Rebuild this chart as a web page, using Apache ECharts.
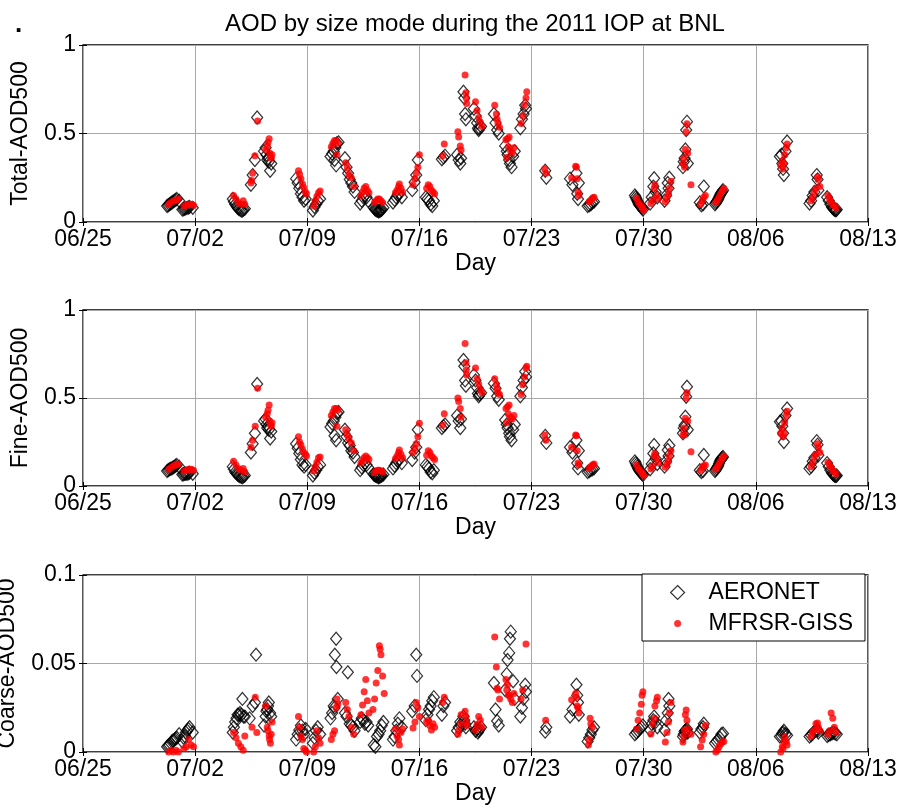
<!DOCTYPE html>
<html>
<head>
<meta charset="utf-8">
<script src="https://cdn.jsdelivr.net/npm/echarts@6/dist/echarts.min.js"></script>
<style>
  html, body { margin: 0; padding: 0; background: #fff; }
  #chart { width: 902px; height: 809px; }
</style>
</head>
<body>
<div id="chart"></div>
<script>
// Day axis: days since 06/25 2011, one tick per week
const dayTicks = ['06/25', '07/02', '07/09', '07/16', '07/23', '07/30', '08/06', '08/13'];

// [day since 06/25, AOD at 500 nm]
const aeronetTotal = [
  [5.25,0.09],[5.32,0.095],[5.4,0.10],[5.48,0.105],[5.55,0.11],[5.62,0.115],[5.7,0.12],[5.78,0.125],[5.85,0.13],[6.0,0.12],
  [6.2,0.07],[6.28,0.072],[6.35,0.075],[6.42,0.078],[6.5,0.08],[6.58,0.082],[6.65,0.085],[6.85,0.08],
  [9.35,0.13],[9.42,0.115],[9.5,0.10],[9.58,0.09],[9.65,0.08],[9.72,0.075],[9.8,0.07],[9.88,0.065],[9.95,0.065],[10.02,0.07],[10.1,0.075],
  [10.48,0.21],[10.59,0.265],[10.73,0.35],[10.87,0.59],
  [11.3,0.40],[11.4,0.42],[11.45,0.38],[11.5,0.35],[11.55,0.36],[11.6,0.34],[11.68,0.29],[11.75,0.33],
  [13.3,0.245],[13.4,0.22],[13.5,0.19],[13.6,0.16],[13.7,0.14],[13.8,0.12],[13.9,0.13],
  [14.35,0.065],[14.45,0.085],[14.55,0.10],[14.65,0.12],[14.8,0.13],
  [15.45,0.37],[15.55,0.385],[15.65,0.40],[15.75,0.42],[15.85,0.445],[15.95,0.45],[15.8,0.32],[15.7,0.35],
  [16.35,0.36],[16.45,0.31],[16.55,0.275],[16.65,0.24],[16.75,0.22],[16.85,0.20],[16.95,0.17],
  [17.3,0.105],[17.4,0.12],[17.5,0.14],[17.6,0.15],[17.7,0.14],[17.8,0.12],
  [18.15,0.08],[18.22,0.075],[18.25,0.07],[18.3,0.068],[18.35,0.065],[18.42,0.062],[18.45,0.06],[18.5,0.062],[18.55,0.065],[18.6,0.068],[18.65,0.07],[18.75,0.08],
  [19.35,0.11],[19.45,0.125],[19.55,0.14],[19.65,0.155],[19.75,0.16],[19.9,0.14],
  [20.55,0.18],[20.7,0.225],[20.8,0.265],[20.9,0.35],
  [21.4,0.14],[21.5,0.13],[21.6,0.12],[21.7,0.10],[21.8,0.09],[21.9,0.12],
  [22.4,0.355],[22.5,0.365],[22.6,0.375],
  [23.35,0.38],[23.45,0.35],[23.55,0.33],[23.6,0.36],[23.75,0.736],[23.8,0.70],[23.85,0.61],[23.9,0.58],
  [24.4,0.64],[24.5,0.60],[24.6,0.56],[24.65,0.53],[24.7,0.52],[24.75,0.53],[24.85,0.54],
  [25.65,0.61],[25.75,0.56],[25.85,0.52],[25.95,0.50],
  [26.35,0.43],[26.45,0.40],[26.5,0.38],[26.6,0.35],[26.65,0.33],[26.75,0.31],[26.85,0.37],[26.95,0.40],
  [27.3,0.53],[27.4,0.58],[27.5,0.61],[27.6,0.66],[27.65,0.64],
  [28.85,0.29],[28.92,0.25],
  [30.4,0.245],[30.55,0.21],[30.8,0.275],[30.85,0.16],[30.9,0.13],[30.95,0.22],
  [31.5,0.09],[31.6,0.095],[31.7,0.10],[31.8,0.11],[31.9,0.115],
  [34.45,0.15],[34.5,0.14],[34.55,0.13],[34.6,0.12],[34.65,0.11],[34.7,0.10],[34.75,0.095],[34.8,0.09],[34.85,0.085],[34.9,0.078],[34.95,0.07],
  [35.4,0.105],[35.5,0.14],[35.6,0.2],[35.65,0.247],[35.75,0.17],[35.85,0.14],
  [36.3,0.12],[36.4,0.15],[36.5,0.22],[36.6,0.25],[36.55,0.19],
  [37.45,0.31],[37.5,0.34],[37.55,0.36],[37.6,0.41],[37.65,0.52],[37.7,0.567],[37.75,0.33],
  [38.5,0.11],[38.6,0.095],[38.7,0.10],[38.75,0.2],
  [39.45,0.10],[39.5,0.108],[39.55,0.115],[39.6,0.122],[39.65,0.13],[39.7,0.14],[39.75,0.15],[39.8,0.158],[39.85,0.165],[39.9,0.172],[39.95,0.18],
  [43.5,0.37],[43.6,0.38],[43.65,0.33],[43.7,0.30],[43.75,0.265],[43.85,0.40],[43.95,0.455],
  [45.35,0.105],[45.45,0.12],[45.55,0.15],[45.65,0.17],[45.8,0.265],[45.85,0.24],[45.9,0.18],
  [46.45,0.14],[46.55,0.12],[46.65,0.10],[46.75,0.085],[46.8,0.08],[46.85,0.075],[46.9,0.07],[46.95,0.068],[47.0,0.066],[47.05,0.07]
];

const mfrsrTotal = [
  [5.35,0.10],[5.5,0.11],[5.65,0.12],[5.8,0.12],[5.95,0.13],
  [6.3,0.09],[6.45,0.095],[6.6,0.10],[6.75,0.10],[6.9,0.095],
  [9.4,0.15],[9.55,0.13],[9.7,0.11],[9.85,0.10],[10.0,0.12],[10.1,0.10],
  [10.49,0.22],[10.52,0.235],[10.59,0.275],[10.73,0.375],[10.9,0.57],
  [11.4,0.41],[11.5,0.43],[11.55,0.45],[11.62,0.47],[11.65,0.39],[11.7,0.37],[11.75,0.36],[11.8,0.38],
  [13.45,0.29],[13.52,0.27],[13.6,0.245],[13.7,0.215],[13.78,0.195],[13.88,0.17],[13.95,0.16],
  [14.4,0.09],[14.5,0.12],[14.6,0.145],[14.7,0.165],[14.8,0.175],
  [15.5,0.425],[15.6,0.445],[15.7,0.46],[15.8,0.46],[15.9,0.445],[15.85,0.38],
  [16.4,0.335],[16.5,0.305],[16.6,0.27],[16.75,0.25],[16.9,0.20],
  [17.35,0.15],[17.45,0.17],[17.55,0.19],[17.65,0.20],[17.75,0.18],[17.85,0.165],
  [18.2,0.11],[18.3,0.12],[18.4,0.13],[18.5,0.13],[18.6,0.12],[18.7,0.11],
  [19.5,0.165],[19.6,0.18],[19.7,0.20],[19.75,0.215],[19.85,0.19],[19.95,0.17],
  [20.6,0.21],[20.72,0.245],[20.8,0.275],[20.9,0.31],[21.0,0.38],
  [21.45,0.19],[21.55,0.21],[21.65,0.20],[21.75,0.18],[21.85,0.17],[21.95,0.16],
  [22.45,0.375],[22.55,0.44],
  [23.4,0.51],[23.45,0.48],[23.55,0.43],[23.6,0.407],[23.85,0.83],[23.9,0.73],[23.93,0.70],[23.95,0.67],
  [24.5,0.68],[24.6,0.63],[24.7,0.59],[24.8,0.565],[24.9,0.54],
  [25.7,0.66],[25.8,0.61],[25.85,0.58],[25.9,0.56],[26.0,0.535],
  [26.4,0.465],[26.5,0.47],[26.6,0.48],[26.55,0.425],[26.7,0.40],[26.8,0.39],[26.45,0.365],[26.9,0.42],
  [27.35,0.557],[27.45,0.60],[27.55,0.66],[27.65,0.70],[27.7,0.736],
  [28.82,0.30],[28.9,0.275],
  [30.5,0.25],[30.75,0.315],[30.8,0.31],[30.85,0.245],[30.9,0.17],[30.95,0.15],
  [31.6,0.115],[31.7,0.125],[31.8,0.135],[31.9,0.14],
  [34.55,0.135],[34.65,0.115],[34.75,0.10],[34.85,0.09],[34.95,0.08],[35.0,0.065],
  [35.45,0.105],[35.55,0.125],[35.65,0.19],[35.7,0.21],[35.8,0.15],[35.9,0.13],
  [36.35,0.115],[36.45,0.14],[36.55,0.16],[36.6,0.19],[36.7,0.23],
  [37.45,0.33],[37.5,0.36],[37.55,0.31],[37.6,0.41],[37.65,0.51],[37.7,0.555],[37.75,0.39],[37.95,0.21],
  [38.55,0.10],[38.65,0.12],[38.75,0.14],[38.85,0.15],
  [39.5,0.11],[39.6,0.125],[39.7,0.14],[39.8,0.16],[39.9,0.175],[40.0,0.19],
  [43.55,0.32],[43.65,0.345],[43.75,0.33],[43.8,0.38],[43.9,0.42],[43.95,0.44],[43.7,0.30],
  [45.45,0.12],[45.55,0.14],[45.65,0.17],[45.75,0.19],[45.85,0.256],[45.9,0.24],[46.0,0.20],
  [46.5,0.15],[46.6,0.13],[46.7,0.115],[46.8,0.10],[46.9,0.09],[47.0,0.08]
];

const aeronetFine = [
  [5.25,0.085],[5.32,0.09],[5.4,0.095],[5.48,0.098],[5.55,0.10],[5.62,0.105],[5.7,0.11],[5.78,0.115],[5.85,0.12],[6.0,0.11],
  [6.2,0.065],[6.28,0.067],[6.35,0.07],[6.42,0.07],[6.5,0.07],[6.58,0.072],[6.65,0.075],[6.85,0.07],
  [9.35,0.11],[9.42,0.095],[9.5,0.08],[9.58,0.072],[9.65,0.065],[9.72,0.06],[9.8,0.055],[9.88,0.052],[9.95,0.05],[10.02,0.055],[10.1,0.06],
  [10.48,0.19],[10.59,0.24],[10.73,0.30],[10.87,0.58],
  [11.3,0.37],[11.4,0.38],[11.45,0.35],[11.5,0.33],[11.55,0.34],[11.6,0.32],[11.68,0.27],[11.75,0.31],
  [13.3,0.24],[13.4,0.215],[13.5,0.185],[13.6,0.15],[13.7,0.12],[13.8,0.11],[13.9,0.12],
  [14.35,0.06],[14.45,0.075],[14.55,0.09],[14.65,0.11],[14.8,0.12],
  [15.45,0.335],[15.55,0.355],[15.65,0.37],[15.75,0.39],[15.85,0.415],[15.95,0.42],[15.8,0.26],[15.7,0.285],
  [16.35,0.32],[16.45,0.28],[16.55,0.245],[16.65,0.23],[16.75,0.20],[16.85,0.19],[16.95,0.165],
  [17.3,0.09],[17.4,0.105],[17.5,0.12],[17.6,0.13],[17.7,0.12],[17.8,0.105],
  [18.15,0.065],[18.22,0.062],[18.25,0.06],[18.3,0.058],[18.35,0.055],[18.42,0.052],[18.45,0.05],[18.5,0.052],[18.55,0.055],[18.6,0.058],[18.65,0.06],[18.75,0.065],
  [19.35,0.10],[19.45,0.115],[19.55,0.13],[19.65,0.145],[19.75,0.15],[19.9,0.13],
  [20.55,0.148],[20.7,0.19],[20.8,0.22],[20.9,0.32],
  [21.4,0.12],[21.5,0.11],[21.6,0.10],[21.7,0.08],[21.8,0.072],[21.9,0.09],
  [22.4,0.33],[22.5,0.34],[22.6,0.35],
  [23.35,0.40],[23.45,0.37],[23.55,0.33],[23.6,0.38],[23.75,0.716],[23.8,0.68],[23.85,0.60],[23.9,0.57],
  [24.4,0.63],[24.5,0.60],[24.6,0.56],[24.65,0.525],[24.7,0.51],[24.75,0.52],[24.85,0.53],
  [25.65,0.583],[25.75,0.555],[25.85,0.51],[25.95,0.49],
  [26.35,0.375],[26.45,0.35],[26.5,0.33],[26.6,0.30],[26.65,0.28],[26.75,0.26],[26.85,0.32],[26.95,0.35],
  [27.3,0.51],[27.4,0.56],[27.5,0.60],[27.6,0.65],[27.65,0.62],
  [28.85,0.285],[28.92,0.245],
  [30.4,0.22],[30.55,0.19],[30.8,0.26],[30.85,0.13],[30.9,0.10],[30.95,0.20],
  [31.5,0.08],[31.6,0.085],[31.7,0.09],[31.8,0.095],[31.9,0.10],
  [34.45,0.14],[34.5,0.13],[34.55,0.12],[34.6,0.11],[34.65,0.10],[34.7,0.092],[34.75,0.085],[34.8,0.08],[34.85,0.075],[34.9,0.068],[34.95,0.062],
  [35.4,0.095],[35.5,0.125],[35.6,0.185],[35.65,0.233],[35.75,0.155],[35.85,0.125],
  [36.3,0.11],[36.4,0.14],[36.5,0.205],[36.6,0.23],[36.55,0.17],
  [37.45,0.30],[37.5,0.33],[37.55,0.345],[37.6,0.394],[37.65,0.507],[37.7,0.564],[37.75,0.32],
  [38.5,0.09],[38.6,0.08],[38.7,0.085],[38.75,0.176],
  [39.45,0.085],[39.5,0.092],[39.55,0.10],[39.6,0.108],[39.65,0.115],[39.7,0.128],[39.75,0.14],[39.8,0.148],[39.85,0.155],[39.9,0.16],[39.95,0.165],
  [43.5,0.365],[43.6,0.37],[43.65,0.34],[43.7,0.30],[43.75,0.25],[43.85,0.40],[43.95,0.44],
  [45.35,0.10],[45.45,0.11],[45.55,0.14],[45.65,0.16],[45.8,0.255],[45.85,0.235],[45.9,0.175],
  [46.45,0.13],[46.55,0.11],[46.65,0.09],[46.75,0.075],[46.8,0.07],[46.85,0.065],[46.9,0.06],[46.95,0.058],[47.0,0.057],[47.05,0.06]
];

const mfrsrFine = [
  [5.35,0.095],[5.5,0.105],[5.65,0.115],[5.8,0.12],[5.95,0.125],
  [6.3,0.085],[6.45,0.09],[6.6,0.095],[6.75,0.095],[6.9,0.09],
  [9.4,0.14],[9.55,0.12],[9.7,0.10],[9.85,0.09],[10.0,0.10],[10.1,0.08],
  [10.49,0.22],[10.59,0.26],[10.75,0.34],[10.9,0.555],
  [11.4,0.39],[11.5,0.41],[11.55,0.43],[11.62,0.46],[11.65,0.37],[11.7,0.35],[11.75,0.34],[11.8,0.36],
  [13.45,0.28],[13.52,0.25],[13.6,0.235],[13.7,0.21],[13.78,0.19],[13.88,0.18],[13.95,0.17],
  [14.4,0.085],[14.5,0.11],[14.6,0.135],[14.7,0.16],[14.8,0.165],
  [15.5,0.40],[15.6,0.42],[15.7,0.44],[15.8,0.44],[15.9,0.43],[15.85,0.34],
  [16.4,0.32],[16.5,0.29],[16.6,0.27],[16.75,0.245],[16.9,0.20],
  [17.35,0.13],[17.45,0.145],[17.55,0.16],[17.65,0.17],[17.75,0.16],[17.85,0.15],
  [18.2,0.075],[18.3,0.085],[18.4,0.09],[18.5,0.09],[18.6,0.085],[18.7,0.08],
  [19.5,0.155],[19.6,0.17],[19.7,0.19],[19.75,0.205],[19.85,0.18],[19.95,0.16],
  [20.6,0.19],[20.72,0.215],[20.8,0.24],[20.9,0.28],[21.0,0.356],
  [21.45,0.175],[21.55,0.20],[21.65,0.19],[21.75,0.17],[21.85,0.16],[21.95,0.15],
  [22.45,0.345],[22.55,0.41],
  [23.4,0.50],[23.45,0.48],[23.55,0.44],[23.6,0.39],[23.85,0.81],[23.9,0.70],[23.93,0.66],[23.95,0.63],
  [24.5,0.67],[24.6,0.61],[24.7,0.58],[24.8,0.55],[24.9,0.53],
  [25.7,0.61],[25.8,0.575],[25.85,0.55],[25.9,0.53],[26.0,0.52],
  [26.4,0.44],[26.5,0.45],[26.6,0.46],[26.55,0.41],[26.7,0.39],[26.8,0.38],[26.45,0.36],[26.9,0.40],
  [27.35,0.52],[27.45,0.575],[27.55,0.62],[27.65,0.67],[27.7,0.68],
  [28.82,0.29],[28.9,0.26],
  [30.5,0.22],[30.75,0.29],[30.8,0.285],[30.85,0.20],[30.9,0.13],[30.95,0.12],
  [31.6,0.10],[31.7,0.11],[31.8,0.12],[31.9,0.125],
  [34.55,0.12],[34.65,0.10],[34.75,0.09],[34.85,0.08],[34.95,0.07],[35.0,0.06],
  [35.45,0.097],[35.55,0.115],[35.65,0.17],[35.7,0.185],[35.8,0.16],[35.9,0.13],
  [36.35,0.107],[36.45,0.125],[36.55,0.14],[36.6,0.17],[36.7,0.2],
  [37.45,0.29],[37.5,0.33],[37.55,0.29],[37.6,0.385],[37.65,0.50],[37.7,0.53],[37.75,0.37],[37.95,0.195],
  [38.55,0.09],[38.65,0.105],[38.75,0.115],[38.85,0.12],
  [39.5,0.095],[39.6,0.11],[39.7,0.125],[39.8,0.14],[39.9,0.155],[40.0,0.17],
  [43.55,0.30],[43.65,0.33],[43.75,0.30],[43.8,0.36],[43.9,0.40],[43.95,0.425],[43.7,0.28],
  [45.45,0.11],[45.55,0.135],[45.65,0.165],[45.75,0.18],[45.85,0.24],[45.9,0.22],[46.0,0.19],
  [46.5,0.135],[46.6,0.12],[46.7,0.105],[46.8,0.09],[46.9,0.08],[47.0,0.07]
];

const aeronetCoarse = [
  [5.25,0.003],[5.32,0.0035],[5.4,0.004],[5.48,0.005],[5.55,0.006],[5.62,0.0065],[5.7,0.007],[5.78,0.0075],[5.85,0.008],[6.0,0.010],
  [6.2,0.006],[6.28,0.008],[6.35,0.009],[6.42,0.011],[6.5,0.012],[6.58,0.013],[6.65,0.014],[6.85,0.011],
  [9.35,0.011],[9.42,0.014],[9.5,0.017],[9.58,0.019],[9.65,0.021],[9.72,0.021],[9.8,0.022],[9.88,0.021],[9.95,0.03],[10.02,0.02],[10.1,0.02],
  [10.4,0.019],[10.59,0.026],[10.73,0.028],[10.8,0.055],
  [11.3,0.015],[11.4,0.02],[11.45,0.023],[11.5,0.024],[11.55,0.026],[11.6,0.028],[11.68,0.022],[11.75,0.02],
  [13.3,0.007],[13.4,0.01],[13.5,0.0125],[13.6,0.015],[13.7,0.012],[13.8,0.01],[13.9,0.013],
  [14.35,0.005],[14.45,0.008],[14.55,0.012],[14.65,0.014],[14.8,0.01],
  [15.45,0.019],[15.55,0.022],[15.65,0.026],[15.72,0.055],[15.8,0.064],[15.82,0.048],[15.9,0.03],[15.7,0.025],
  [16.53,0.045],[16.35,0.022],[16.45,0.02],[16.65,0.016],[16.75,0.015],[16.85,0.014],[16.95,0.012],
  [17.3,0.017],[17.4,0.019],[17.5,0.018],[17.6,0.016],[17.7,0.017],[17.8,0.015],
  [18.15,0.004],[18.25,0.003],[18.35,0.0087],[18.45,0.01],[18.55,0.012],[18.65,0.015],[18.75,0.017],
  [19.35,0.007],[19.45,0.0087],[19.55,0.012],[19.65,0.016],[19.75,0.019],[19.9,0.014],
  [20.55,0.023],[20.7,0.026],[20.85,0.043],[20.8,0.055],
  [21.4,0.018],[21.5,0.021],[21.6,0.024],[21.7,0.026],[21.8,0.029],[21.9,0.031],
  [22.4,0.021],[22.5,0.026],[22.6,0.028],
  [23.35,0.012],[23.45,0.014],[23.55,0.017],[23.6,0.015],[23.75,0.02],[23.8,0.018],[23.85,0.016],[23.9,0.014],
  [24.4,0.014],[24.5,0.012],[24.6,0.013],[24.65,0.011],[24.7,0.012],[24.75,0.013],[24.85,0.014],
  [25.65,0.039],[25.75,0.024],[25.85,0.0175],[25.95,0.015],
  [26.35,0.035],[26.45,0.044],[26.5,0.052],[26.6,0.056],[26.65,0.064],[26.7,0.068],[26.85,0.04],[26.95,0.03],
  [27.3,0.02],[27.4,0.025],[27.5,0.03],[27.6,0.038],[27.65,0.034],
  [28.85,0.0115],[28.92,0.014],
  [30.4,0.02],[30.55,0.024],[30.8,0.038],[30.85,0.032],[30.9,0.028],[30.95,0.021],
  [31.5,0.006],[31.6,0.008],[31.7,0.01],[31.8,0.0124],[31.9,0.014],
  [34.45,0.01],[34.55,0.011],[34.65,0.012],[34.75,0.013],[34.85,0.014],[34.95,0.015],
  [35.4,0.0124],[35.5,0.0158],[35.6,0.018],[35.65,0.02],[35.75,0.017],[35.85,0.014],
  [36.3,0.0124],[36.4,0.018],[36.5,0.022],[36.6,0.026],[36.55,0.03],
  [37.45,0.0087],[37.5,0.01],[37.55,0.0116],[37.6,0.012],[37.65,0.0124],[37.7,0.013],[37.75,0.011],
  [38.5,0.011],[38.6,0.013],[38.7,0.014],[38.75,0.016],
  [39.45,0.005],[39.55,0.006],[39.65,0.007],[39.75,0.008],[39.85,0.01],[39.95,0.0105],
  [43.5,0.0087],[43.6,0.009],[43.65,0.0105],[43.7,0.011],[43.75,0.012],[43.85,0.01],[43.95,0.0095],
  [45.35,0.0087],[45.45,0.0095],[45.55,0.0105],[45.65,0.0115],[45.8,0.0125],[45.85,0.012],[45.9,0.011],
  [46.45,0.009],[46.55,0.0096],[46.65,0.01],[46.75,0.0105],[46.85,0.011],[46.95,0.0105],[47.05,0.01]
];

const mfrsrCoarse = [
  [5.35,0.000],[5.5,0.001],[5.65,0.000],[5.8,0.001],[5.95,0.000],
  [6.3,0.002],[6.45,0.003],[6.6,0.007],[6.75,0.004],[6.9,0.003],
  [9.4,0.011],[9.55,0.008],[9.7,0.005],[9.85,0.003],[10.0,0.001],[10.1,0.009],
  [10.55,0.014],[10.75,0.031],[10.85,0.011],
  [11.4,0.026],[11.5,0.014],[11.55,0.012],[11.62,0.009],[11.65,0.007],[11.7,0.005],[11.75,0.01],[11.8,0.017],
  [13.45,0.02],[13.52,0.014],[13.6,0.009],[13.7,0.007],[13.78,0.002],[13.88,0.001],[13.95,0.0],
  [14.4,0.0],[14.5,0.003],[14.6,0.012],[14.7,0.008],[14.8,0.005],
  [15.5,0.007],[15.6,0.01],[15.7,0.012],[15.8,0.025],[15.9,0.027],[15.85,0.03],
  [16.4,0.028],[16.5,0.024],[16.6,0.02],[16.75,0.014],[16.9,0.01],
  [17.35,0.021],[17.45,0.0265],[17.55,0.034],[17.65,0.041],[17.75,0.029],[17.85,0.022],
  [18.1,0.024],[18.2,0.03],[18.3,0.039],[18.4,0.046],[18.5,0.06],[18.55,0.058],[18.6,0.055],[18.7,0.043],[18.8,0.033],
  [19.5,0.013],[19.6,0.009],[19.7,0.007],[19.75,0.004],[19.85,0.011],[19.95,0.013],
  [20.6,0.0136],[20.72,0.017],[20.8,0.028],[20.9,0.025],[21.0,0.02],
  [21.45,0.017],[21.55,0.018],[21.65,0.015],[21.75,0.0125],[21.85,0.016],[21.95,0.014],
  [22.45,0.028],[22.55,0.031],
  [23.4,0.01],[23.45,0.012],[23.55,0.016],[23.6,0.021],[23.85,0.023],[23.9,0.02],[23.93,0.017],[23.95,0.015],
  [24.5,0.0125],[24.6,0.0155],[24.7,0.02],[24.8,0.018],[24.9,0.014],
  [25.7,0.065],[25.8,0.048],[25.85,0.036],[25.9,0.035],[26.0,0.03],
  [26.4,0.041],[26.5,0.038],[26.6,0.032],[26.55,0.032],[26.7,0.03],[26.8,0.028],[26.45,0.035],[26.9,0.033],
  [27.35,0.03],[27.45,0.035],[27.65,0.061],
  [28.88,0.018],
  [30.5,0.0295],[30.75,0.033],[30.8,0.031],[30.85,0.026],[30.9,0.025],[30.95,0.022],
  [31.55,0.004],[31.6,0.007],[31.7,0.016],[31.65,0.019],[31.8,0.014],
  [34.55,0.013],[34.65,0.018],[34.75,0.022],[34.85,0.027],[34.9,0.032],[34.95,0.034],
  [35.45,0.0102],[35.55,0.016],[35.65,0.019],[35.7,0.026],[35.8,0.029],[35.85,0.031],
  [36.35,0.0056],[36.45,0.011],[36.55,0.017],[36.6,0.022],[36.7,0.028],
  [37.45,0.0056],[37.5,0.009],[37.55,0.0124],[37.6,0.021],[37.65,0.0237],[37.7,0.018],[37.75,0.013],[37.95,0.01],
  [38.55,0.003],[38.65,0.0068],[38.75,0.01],[38.85,0.015],
  [39.5,0.0],[39.6,0.001],[39.7,0.003],[39.8,0.0045],[39.9,0.0056],[40.0,0.006],
  [43.55,0.0],[43.65,0.003],[43.75,0.0058],[43.8,0.0085],[43.9,0.006],[43.95,0.004],[43.7,0.002],
  [45.45,0.0087],[45.55,0.0115],[45.65,0.0125],[45.75,0.016],[45.85,0.0164],[45.9,0.014],[46.0,0.012],
  [46.5,0.01],[46.6,0.012],[46.7,0.022],[46.8,0.019],[46.9,0.014],[47.0,0.011]
];

const panelNames = ['Total-AOD500', 'Fine-AOD500', 'Coarse-AOD500'];
const panelMax = [1, 1, 0.1];
const panelStep = [0.5, 0.5, 0.05];
const aeronetSets = [aeronetTotal, aeronetFine, aeronetCoarse];
const mfrsrSets = [mfrsrTotal, mfrsrFine, mfrsrCoarse];

const FONT = '"Liberation Sans", Arial, Helvetica, sans-serif';
const gridBoxes = [
  { top: 45, height: 177 },
  { top: 310, height: 176 },
  { top: 575, height: 177 }
];
// horizontal centre of each rotated y-axis title
const yNameX = [21, 21, 8];

// small red dot for the legend, padded to the full icon box
const legendDot = 'path://M0,0L0,0.01M14,14L14,13.99M3.5,7A3.5,3.5,0,1,1,10.5,7A3.5,3.5,0,1,1,3.5,7Z';

const grid = [], xAxis = [], yAxis = [], series = [], graphic = [];
gridBoxes.forEach((g, i) => {
  grid.push({
    left: 83, width: 785, top: g.top, height: g.height,
    show: true, borderColor: '#000', borderWidth: 1.3, backgroundColor: '#fff'
  });
  // bottom day axis with labels and grid lines
  xAxis.push({
    type: 'value', gridIndex: i, min: 0, max: 49, interval: 7,
    name: 'Day', nameLocation: 'middle', nameGap: 30,
    nameTextStyle: { fontFamily: FONT, fontSize: 23, color: '#000' },
    axisLine: { show: false },
    axisTick: { show: true, inside: true, length: 4, lineStyle: { color: '#000' } },
    axisLabel: {
      fontFamily: FONT, fontSize: 23, color: '#000', margin: 6,
      formatter: v => dayTicks[Math.round(v / 7)]
    },
    splitLine: { show: true, lineStyle: { color: '#a8a8a8', width: 1 } }
  });
  // top edge ticks
  xAxis.push({
    type: 'value', gridIndex: i, position: 'top', min: 0, max: 49, interval: 7,
    axisLine: { show: false }, axisLabel: { show: false }, splitLine: { show: false },
    axisTick: { show: true, inside: true, length: 4, lineStyle: { color: '#000' } }
  });
  yAxis.push({
    type: 'value', gridIndex: i, min: 0, max: panelMax[i], interval: panelStep[i],
    axisLine: { show: false },
    axisTick: { show: true, inside: true, length: 4, lineStyle: { color: '#000' } },
    axisLabel: { fontFamily: FONT, fontSize: 23, color: '#000', margin: 7 },
    splitLine: { show: true, lineStyle: { color: '#a8a8a8', width: 1 } }
  });
  // right edge ticks
  yAxis.push({
    type: 'value', gridIndex: i, position: 'right', min: 0, max: panelMax[i], interval: panelStep[i],
    axisLine: { show: false }, axisLabel: { show: false }, splitLine: { show: false },
    axisTick: { show: true, inside: true, length: 4, lineStyle: { color: '#000' } }
  });
  // rotated y-axis title
  graphic.push({
    type: 'text', x: yNameX[i], y: g.top + g.height / 2, rotation: Math.PI / 2,
    style: {
      text: panelNames[i], font: '23px ' + FONT, fill: '#000',
      align: 'center', verticalAlign: 'middle'
    }
  });
  series.push({
    name: 'AERONET', type: 'scatter', xAxisIndex: 2 * i, yAxisIndex: 2 * i,
    data: aeronetSets[i], symbol: 'diamond', symbolSize: [11, 13],
    itemStyle: { color: 'rgba(255,255,255,0)', borderColor: '#000', borderWidth: 1.25 },
    emphasis: { disabled: true }, animation: false, z: 2
  });
  series.push({
    name: 'MFRSR-GISS', type: 'scatter', xAxisIndex: 2 * i, yAxisIndex: 2 * i,
    data: mfrsrSets[i], symbol: 'circle', symbolSize: 7,
    itemStyle: { color: '#ff0000', borderWidth: 0 },
    emphasis: { disabled: true }, animation: false, z: 3
  });
});
graphic.push({ type: 'text', left: 15, top: 12, style: { text: '.', font: 'bold 26px ' + FONT, fill: '#000' } });

const chart = echarts.init(document.getElementById('chart'), null, { renderer: 'canvas' });
chart.setOption({
  backgroundColor: '#fff',
  animation: false,
  title: {
    text: 'AOD by size mode during the 2011 IOP at BNL',
    left: 220, top: 7,
    textStyle: { fontFamily: FONT, fontSize: 24, fontWeight: 'normal', color: '#000' }
  },
  legend: {
    left: 642, top: 574, orient: 'vertical',
    padding: [7, 12, 6, 28], itemGap: 8,
    itemWidth: 14, itemHeight: 14,
    backgroundColor: '#fff', borderColor: '#000', borderWidth: 1,
    selectedMode: false,
    textStyle: { fontFamily: FONT, fontSize: 23, color: '#000', padding: [0, 0, 0, 19] },
    data: [
      { name: 'AERONET', icon: 'diamond', itemStyle: { color: 'rgba(255,255,255,0)', borderColor: '#000', borderWidth: 1.2 } },
      { name: 'MFRSR-GISS', icon: legendDot, itemStyle: { color: '#ff0000', borderWidth: 0 } }
    ]
  },
  graphic, grid, xAxis, yAxis, series
});
</script>
</body>
</html>
